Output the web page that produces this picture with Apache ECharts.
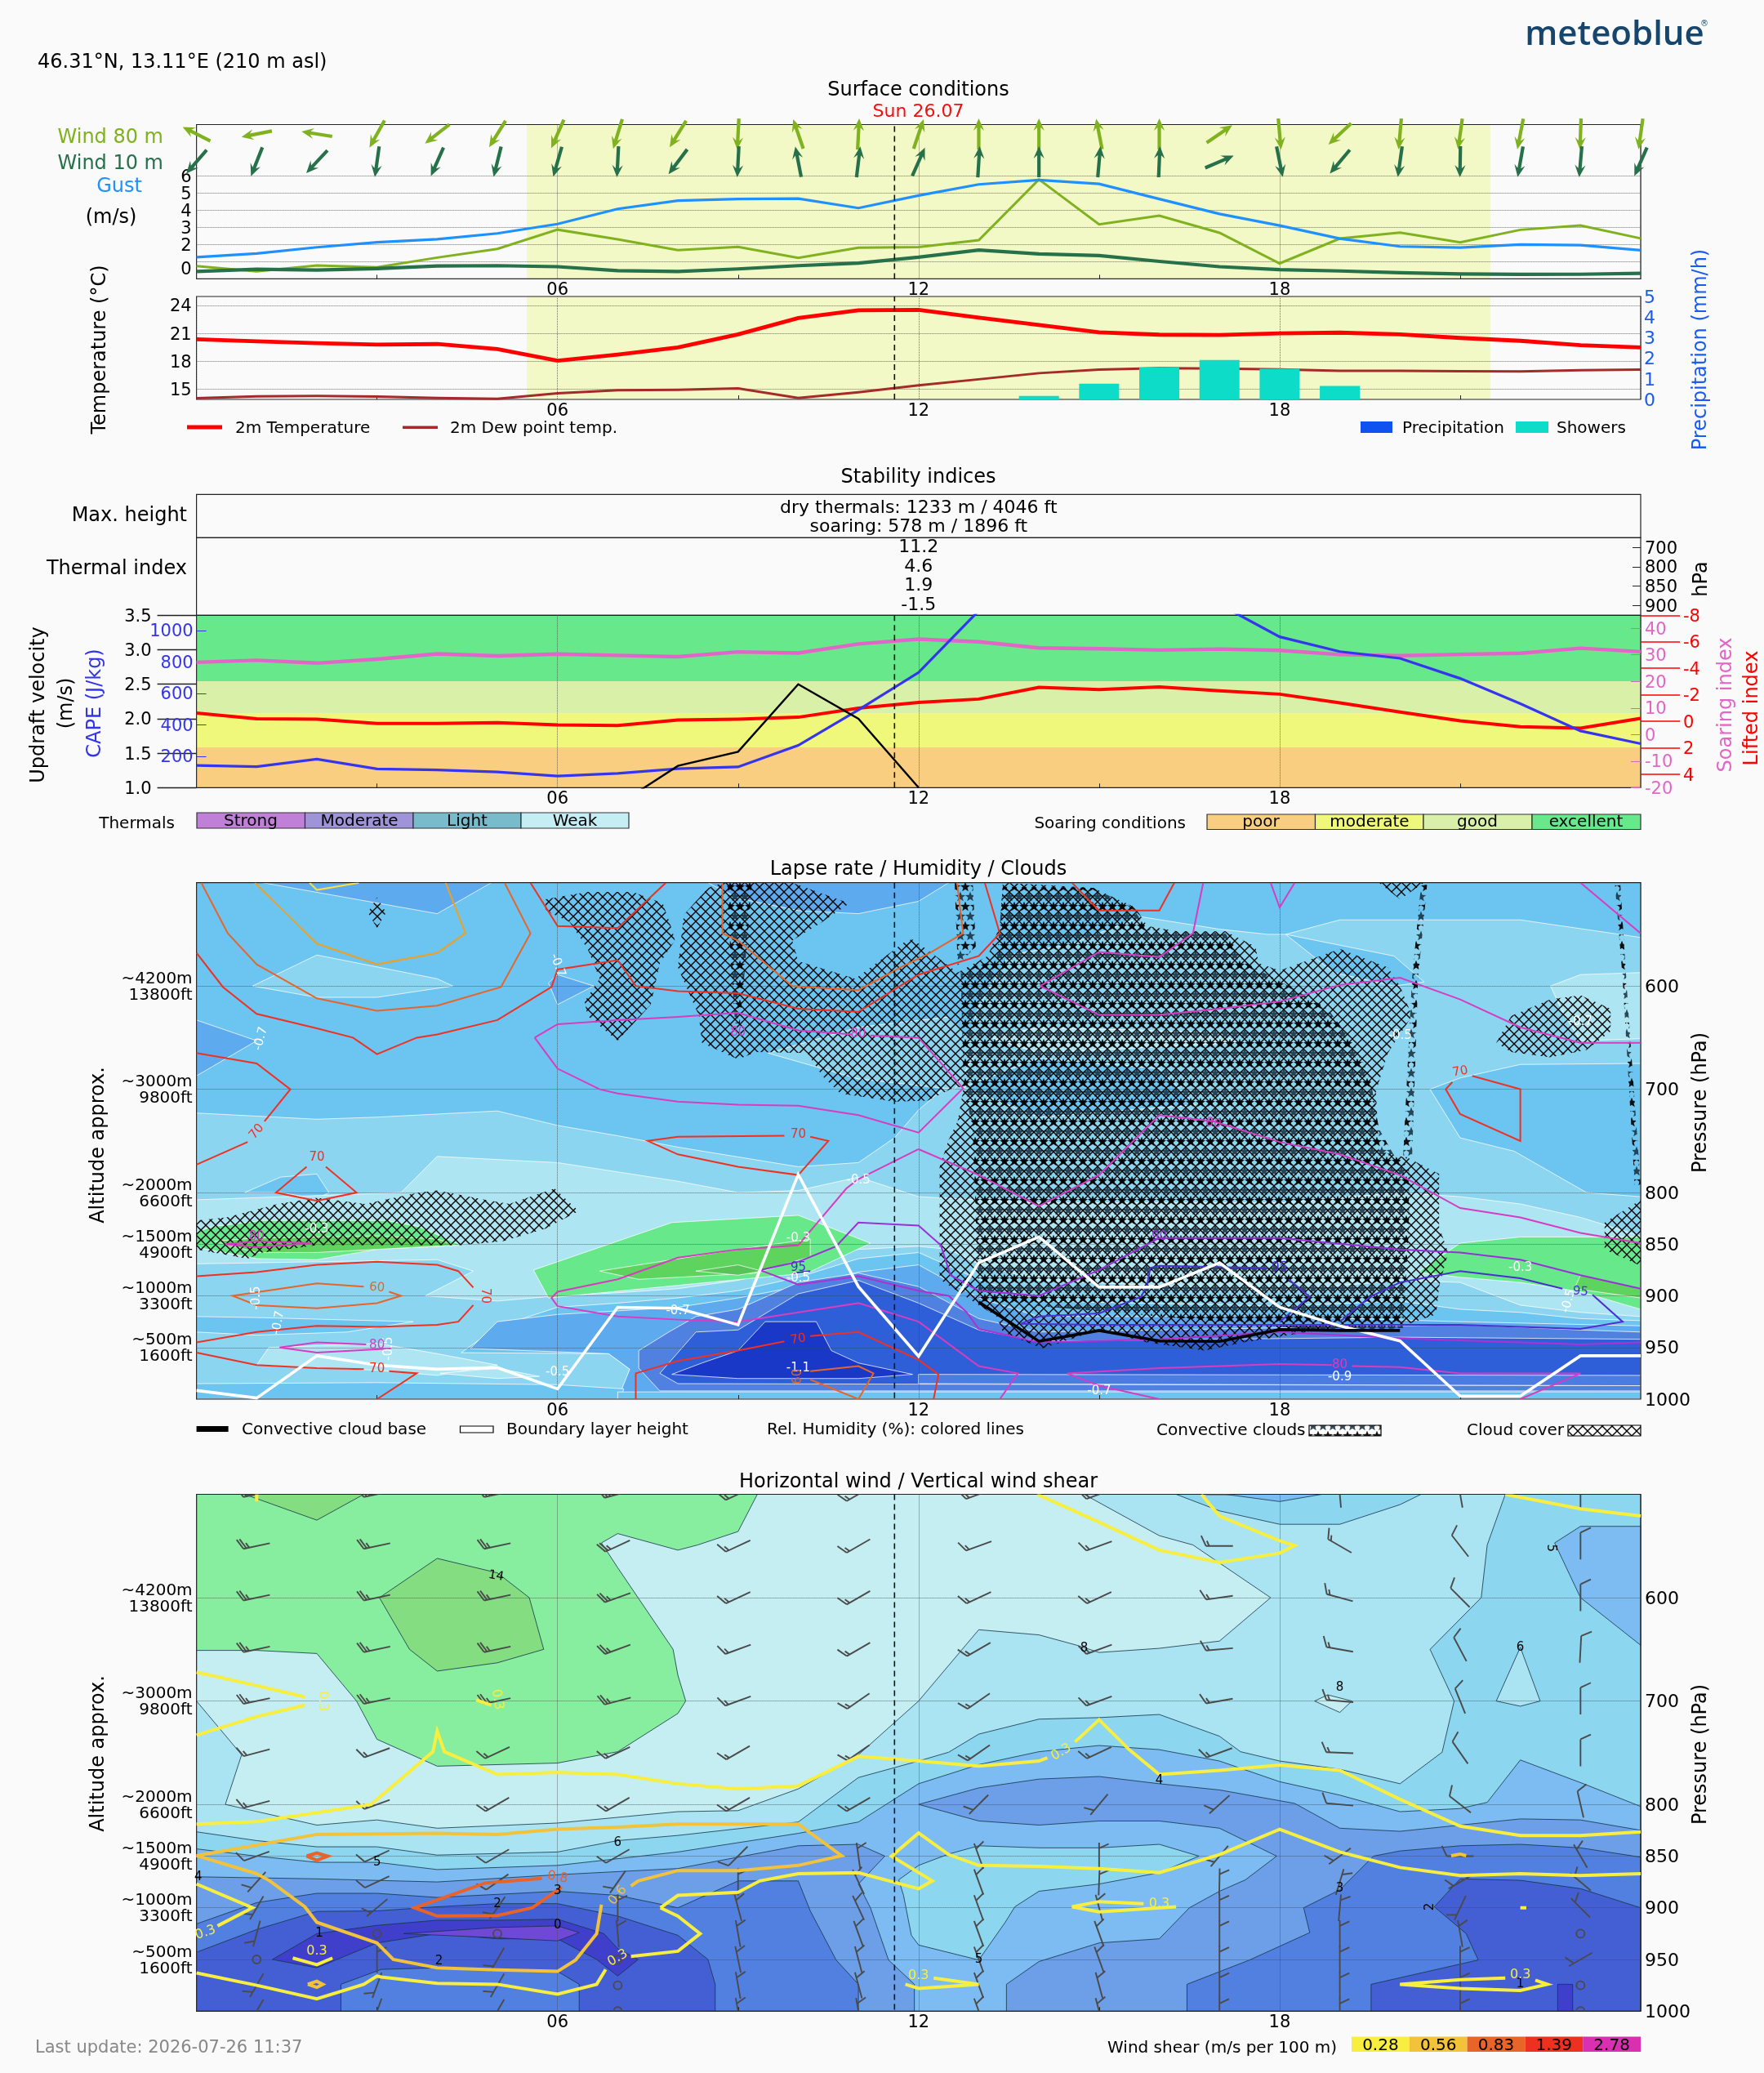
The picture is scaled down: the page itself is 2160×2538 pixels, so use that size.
<!DOCTYPE html>
<html><head><meta charset="utf-8">
<style>html,body{margin:0;padding:0;background:#fafafa}#c{width:2160px;height:2538px}</style>
<script src="https://cdn.jsdelivr.net/npm/echarts@6/dist/echarts.min.js"></script>
</head><body><div id="c"></div>
<script>
/* ---------- time ---------- */
const HOURS=[0,1,2,3,4,5,6,7,8,9,10,11,12,13,14,15,16,17,18,19,20,21,22,23,24];
const NOW_HOUR=11.6, DAY_START=5.49, DAY_END=21.5;
/* ---------- surface ---------- */
const GUST=[1.26,1.48,1.84,2.13,2.31,2.65,3.2,4.08,4.56,4.66,4.68,4.13,4.86,5.51,5.77,5.54,4.66,3.79,3.11,2.35,1.89,1.82,2.0,1.97,1.67];
const WIND80=[.75,.44,.78,.68,1.24,1.75,2.87,2.31,1.68,1.87,1.22,1.82,1.85,2.26,5.8,3.18,3.69,2.69,.9,2.35,2.7,2.13,2.86,3.11,2.36];
const WIND10=[.43,.56,.51,.6,.75,.77,.71,.48,.43,.58,.77,.92,1.26,1.68,1.45,1.36,1.02,.71,.54,.46,.36,.29,.26,.27,.32];
const WIND80_DIR=[297,259,279,209,232,212,204,197,212,183,341,3,18.6,0,0,349,0,55.6,175,227,185,188,191,182,188];
const WIND10_DIR=[221,201.6,223,188,204,194,196,183,217,183,349,7,24,3.5,0,5,2.5,67,168.5,220,188,181,190,185,204];
const TEMP2M=[20.35,20.13,19.94,19.78,19.84,19.3,18.05,18.7,19.47,20.88,22.64,23.49,23.52,22.7,21.89,21.1,20.85,20.82,21.0,21.07,20.88,20.5,20.19,19.72,19.47];
const DEW2M=[14.0,14.2,14.25,14.18,14.03,13.93,14.53,14.87,14.9,15.06,14.03,14.65,15.38,16.04,16.7,17.08,17.23,17.2,17.1,16.95,16.95,16.92,16.89,17.01,17.08];
const SHOWER_HOURS=[14,15,16,17,18,19];
const SHOWERS=[.17,.76,1.56,1.91,1.49,.65];
/* ---------- stability ---------- */
const SOARING=[27.2,27.95,26.9,28.4,30.4,29.6,30.3,29.8,29.3,31.1,30.7,34.1,35.9,34.9,32.6,32.3,31.8,32.2,31.7,30.1,29.7,30.2,30.6,32.5,31.2];
const LIFTED=[-.62,-.2,-.16,.16,.16,.1,.27,.31,-.1,-.16,-.31,-.99,-1.42,-1.68,-2.57,-2.4,-2.59,-2.3,-2.05,-1.4,-.7,-.04,.41,.51,-.23];
const CAPE=[141,134,181,119,113,100,74,91,120,132,269,495,733,1126,1350,1450,1350,1166,960,866,823,695,534,361,280];
const UPDRAFT_HOURS=[7,8,9,10,11,12];
const UPDRAFT=[.75,1.316,1.52,2.5,2,1];
const SOARING_EDGES=[1,1.585,2.078,2.544,3.5];
const THERMAL_LEVELS=['900','850','800','700'];
const THERMAL_INDEX=['-1.5','1.9','4.6','11.2'];
/* ---------- lapse rate fills, [hour,hPa] ---------- */
const LAPSE_BASE=[[0,500],[24,500],[24,1000],[0,1000]];
const LAPSE_D1=[[1.1,500],[4,530],[4.9,500]];
const LAPSE_D2=[[8.5,500],[9,515],[10,527],[11,530],[12,518],[12.5,500]];
const LAPSE_D3=[[0,633],[1,653],[0,687]];
const LAPSE_D4=[[6,589],[6.6,600],[6,618],[5.85,597]];
const LAPSE_L1=[[.93,600],[2,570],[4,593],[4.26,600],[3,611],[2,611]];
const LAPSE_LIGHT=[[0,723],[2,729],[3,727],[5,721],[6,735],[7,745],[8,756],[10,775],[11,771],[11.6,747],[12,720],[12.6,690],[13,620],[13.5,570],[14.5,560],[15.7,533],[17,545],[17.8,550],[18.1,550],[19,536],[22,536],[24,553],[24,1000],[0,1000]];
const LAPSE_L2=[[9.5,665],[11,640],[12.5,630],[13,660],[12.6,700],[11,690]];
const LAPSE_PK_A=[[12.75,698],[14,670],[16,680],[16.6,715],[14,727]];
const LAPSE_PK_B=[[20.5,700],[21,689],[22,676],[24,675],[24,804],[23.1,800],[21.9,760],[21,747]];
const LAPSE_PK_C=[[18.1,550],[19.9,571],[20.4,596],[19.9,600],[18.9,587]];
const LAPSE_PK_D=[[.8,800],[1.4,785],[2,782],[2.2,800],[2,806],[1.4,800]];
const LAPSE_P1=[[22.5,600],[23,589],[24,587],[24,651],[23,653],[22.7,625]];
const LAPSE_P2=[[13.2,650],[14,640],[17,645],[17.3,655],[14,665]];
const LAPSE_PALE=[[0,807],[3.4,800],[4,765],[6,771],[8,789],[9,800],[10,798],[11,785],[12,804],[14,810],[18,810],[20,800],[21,804],[22,811],[23,824],[24,842],[24,1000],[0,1000]];
const LAPSE_LOW6=[[0,869],[4,865],[4.6,876],[3.8,900],[5,905],[6,900],[7,897],[8,893],[9,885],[10,870],[11,855],[12,852],[12.5,855],[13,869],[14,885],[18,895],[20,885],[21,887],[22,909],[23,916],[24,920],[24,1000],[0,1000]];
const LAPSE_LOW7=[[4.4,955],[5,930],[6,911],[7,907],[8,902],[9,895],[10,882],[11,864],[12,858],[13,884],[14,905],[18,910],[20,905],[21,913],[22,916],[23,922],[24,924],[24,1000],[7.05,1000],[7.2,971],[6.85,956]];
const LAPSE_LOW8=[[4.55,951],[5,925],[6,918],[8,911],[9,902],[10,891],[11,877],[12,870],[13,902],[14,920],[18,920],[21,925],[24,929],[24,1000],[7,1000],[7.2,971],[6.85,956]];
const LAPSE_LOW9=[[7.35,953],[7.85,935],[8.3,920],[9,913],[10,887],[11,878],[12,891],[13,922],[14,935],[21,928],[23,933],[24,935],[24,992],[7.7,992],[7.35,970]];
const LAPSE_LOW10=[[7.7,975],[8.3,935],[9,933],[10,898],[11,885],[12,907],[13,933],[14,944],[20,940],[24,942],[24,987],[8,985]];
const LAPSE_STRIP=[[12,976],[24,977],[24,987],[12,985]];
const LAPSE_LOW11=[[7.9,976],[8.4,965],[9,953],[9.45,925],[10.3,925],[10.55,953],[11,965],[11.9,976],[11,980],[9,980]];
const LAPSE_LENS=[[0,920],[1,921],[3.6,925],[2.5,935],[1,938],[0,935]];
const LAPSE_BLOB=[[1,967],[1.2,950],[3,946],[4,956],[5,967],[4,977],[3,972]];
const LAPSE_BLOB2=[[4.05,975],[5,970],[5.7,978],[5,980]];
const LAPSE_BOT_L=[[0,985],[3,984],[6,986],[7.1,990],[7.05,1000],[0,1000]];
const LAPSE_BOT_R=[[7,993],[24,993],[24,1000],[7,1000]];
const LAPSE_G1=[[5.6,875],[7.9,829],[10,822],[11.2,849],[10.15,878],[8.5,887],[5.85,902]];
const LAPSE_G2=[[6.7,876],[9,855],[10.2,845],[10.2,862],[9.3,878],[7.35,884]];
const LAPSE_G3=[[8.3,876],[9,870],[9.4,876],[9,880]];
const LAPSE_G4=[[.27,833],[1.1,827],[3.15,827],[3.7,833],[4.4,851],[3,855],[2,865],[1,864],[0,853],[0,838]];
const LAPSE_G5=[[.3,847],[1,844],[3,842],[4,845],[4.3,851],[2,858],[1,858]];
const LAPSE_G6=[[20.3,877],[21,849],[22,843],[24,843],[24,913],[23,896],[22,887],[21,882]];
const LAPSE_G7=[[22.9,893],[23,880],[24,893],[24,902]];
/* cloud cover and convective clouds */
const CLOUD_AREAS=[
[[3,514],[3.15,529],[3,544],[2.85,529]],
[[5.8,516],[6.5,509],[7.25,509],[7.75,520],[7.9,545],[7.95,556],[7.7,578],[7.55,618],[7,653],[6.5,629],[6.45,615],[6.7,593],[6.5,564],[6.2,538],[5.8,527]],
[[8.05,556],[8.1,531],[8.5,505],[8.75,500],[9.9,500],[10.85,520],[10.4,538],[9.9,556],[10,576],[10.95,593],[11.8,556],[11.9,555],[12.15,565],[12.65,587],[13.15,571],[13.35,542],[13.4,500],[14.9,505],[15.6,524],[15.8,542],[16.3,547],[17.1,547],[17.6,562],[17.65,578],[18,585],[19,564],[19.8,582],[20,600],[20.2,629],[19.8,665],[19.6,702],[19.65,760],[20.15,767],[20.65,782],[20.65,833],[20.8,858],[20.65,891],[20.6,918],[20.05,929],[18.9,931],[17.4,945],[16.75,953],[15.8,945],[15,933],[14.05,951],[13.4,935],[13.3,920],[13,909],[12.35,884],[12.35,775],[12.5,749],[12.65,731],[12.75,698],[12.6,698],[12.15,711],[11.6,712],[10.7,704],[10.4,687],[10.15,665],[9.3,664],[9,671],[8.4,655],[8.35,629],[8,582]],
[[19.65,500],[20,516],[20.4,500]],
[[21.6,655],[21.85,629],[22.5,613],[23,609],[23.5,622],[23.5,644],[23.1,662],[22.5,669],[21.85,664]],
[[23.4,829],[24,807],[24,871],[23.4,855]],
[[0,827],[.5,824],[1.35,811],[2,805],[2.8,811],[3.7,800],[4,798],[4.8,807],[5.2,811],[5.95,796],[6.35,818],[5.8,835],[5.1,847],[4.4,851],[2.9,851],[2,851],[1.1,858],[.85,864],[0,855]]
];
const CONVECTIVE_AREAS=[
[[13.4,504],[14.9,505],[15.55,524],[15.8,545],[17.1,549],[17.45,578],[18.15,600],[18.8,622],[19.25,658],[19.5,687],[19.65,738],[19.9,764],[20.15,775],[20.15,833],[20.05,931],[19.05,935],[13,905],[12.9,738],[12.75,698],[12.7,585],[13.3,575]],
[[12.6,500],[12.9,500],[12.95,562],[12.65,580]],
[[8.82,500],[9.23,500],[9.1,593],[9.03,636],[8.95,636],[8.87,567]],
[[20.35,502],[20.45,502],[20.3,593],[20.2,767],[20.05,767],[20.2,593]],
[[23.57,500],[23.66,500],[23.8,629],[24,793],[23.9,793],[23.7,593]]
];
/* relative humidity contours */
const RH40=[[[1.88,500],[2,507],[2.7,500]]];
const RH50=[[[.97,500],[2,559],[3,579],[4,568],[4.47,549],[4.14,500]]];
const RH60=[
[[.08,500],[.52,549],[1,579],[2,612],[3,624],[4,619],[5.06,601],[5.55,549],[5.12,500]],
[[8.74,500],[8.74,549],[9,556],[9.9,600],[11,604],[11.7,582],[12.16,569],[12.74,549],[12.64,500]],
[[2.78,891],[2,888],[.6,900],[1,909],[2,912],[3,907],[3.4,900],[3.2,896]],
[[10.2,973],[11,968],[11.25,975],[11,1000]],[[10.2,981],[11,1000]]];
const RH70=[
[[0,568],[.44,601],[1,627],[2,641],[2.6,650],[3,666],[3.66,650],[4,647],[5,633],[5.9,601],[6,584],[7,575],[7.3,600],[8,605],[9,607],[10,622],[11,625],[12,589],[13,571],[13.35,549],[13.1,500]],
[[5.55,500],[6,542],[7,544],[7.8,500]],
[[14.55,500],[15,527],[16,527],[16.25,500]],
[[0,665],[1,675],[1.56,700],[1.13,731]],[[.85,751],[0,773]],
[[1.83,775],[1.32,800],[2,808],[2.66,800],[2.15,775]],
[[9.77,745],[8,746],[7.5,750],[8,763],[9,775],[10,783],[10.5,750],[10.2,746]],
[[4.6,892],[4.35,876],[4,870],[3,867],[2,870],[1,877],[0,881]],
[[4.6,909],[4.35,925],[4,928],[3,930],[2,929],[1,935],[0,945]],
[[0,955],[1,967],[2,970],[2.78,971]],[[3.2,973],[3.66,975],[3,1000]],
[[7.3,1000],[7.3,975],[8,963],[9,953],[9.77,944]],[[10.2,939],[11,935],[12,962],[12.33,976],[12.25,1000]],
[[20.87,693],[20.76,700],[21,724],[22,750],[22,700],[21.2,687]]];
const RH80=[
[[5.62,650],[6,637],[7,633],[8,630],[9,626],[10,643],[10.9,647]],
[[11.2,648],[12,650],[12.74,699],[12,742],[11,725],[10,716],[9,715],[8,712],[7,704],[6.7,700],[6,680],[5.62,650]],
[[14.02,600],[15,567],[16,572],[16.56,549],[16.73,500]],
[[14.02,600],[15,628],[16,628],[17,622],[18,615],[19,599],[20,592],[21,613],[22,640],[23,655],[24,655]],
[[17.85,500],[18,524],[18.25,500]],[[23,500],[24,549]],
[[12,758],[11,787],[10.8,796],[10,851],[9,855],[8,863],[7,884],[6,896],[5.9,902],[6,910],[7,920],[8,923],[9,925],[10,916],[11,907],[12,925],[13,968],[13.65,975],[13.35,1000]],
[[12,758],[13,783],[14,813],[15,783],[16,725],[16.9,731],[18,751],[19,763],[20,783],[21,815],[22,824],[23,839],[24,849]],
[[18.87,967],[18,966],[16,970],[14.47,975],[15,987],[16,1000]],
[[19.2,968],[20,969],[21,975],[23,975],[22,1000]],
[[2.82,947],[2,945],[1.38,950],[2,955],[3.23,951]],
[[.48,850],[1,847],[1.92,849],[1,853],[.48,850]]];
const RH85=[[[9.36,875],[10,889],[11,881],[12,895],[12.5,900],[12.8,916],[13,932],[14,945],[16,942],[18,935],[20,941],[23,947],[24,945]]];
const RH90=[[[9.36,875],[10,867],[10.63,852],[11,829],[12,832],[12.37,851],[12.53,880],[13,895],[14,900],[15,875],[16,844],[18,844],[20,855],[21,858],[22,865],[23,880],[24,893]]];
const RH95=[
[[17.8,873],[16,871],[15.85,873],[15.8,889],[15.7,901],[15,917],[14,920],[13.7,927],[15,928],[19,928],[21,928],[23,932],[23.7,925],[23.2,899]],
[[22.7,893],[22,883],[21,876],[20,887],[19.5,901],[19,925]],
[[18.15,884],[18.5,901],[18,925]],[[9.9,878],[10.2,876]]];
const BOUNDARY_LAYER=[991.6,998.9,958,967,971,969.5,990,911,912,928,782.5,891,958.5,868,843,891.6,891.6,868,911,929,943.6,997,997,958,958];
const CLOUD_BASE_HOURS=[13,14,15,16,17,18,19,20];
const CLOUD_BASE=[906,944,933.5,943.6,944,932.7,933.5,933.5];
const LAPSE_LABELS=[[6,580,'-0.7',-70],[1.07,651,'-0.7',75],[11,788,'-0.5',0],[10,844,'-0.3',0],[10,883,'-0.5',0],[10,970,'-1.1',0],[8,915,'-0.7',0],[6,974,'-0.5',0],[2,836,'-0.3',0],[1,902,'-0.5',90],[1.36,926,'-0.7',80],[3.2,951,'-0.5',90],[22,873,'-0.3',0],[15,992,'-0.7',0],[19,979,'-0.9',0],[20,648,'-0.5',0],[22.8,905,'-0.5',75],[23,635,'-0.7',0]];
const RH_LABELS_70=[[1,741,'70',50],[2,766,'70',0],[10,744,'70',0],[3,971,'70',0],[4.8,900,'70',-90],[10,942,'70',10],[21,683,'70',10]];
const RH_LABELS_60=[[3,892,'60',-5],[10,978,'60',90]];
const RH_LABELS_80=[[1,843,'80',0],[3,948,'80',0],[11,647,'80',0],[9,645,'80',0],[19,967,'80',0],[16.9,733,'80',-10]];
const RH_LABELS_90=[[16,843,'90',0]];
const RH_LABELS_95=[[10,873,'95',0],[23,896,'95',-5],[18,873,'95',0]];
/* ---------- horizontal wind fills, [hour,hPa] ---------- */
const WS_BASE=[[0,500],[24,500],[24,1000],[0,1000]];
const WS_PALE=[[0,500],[0,700],[.75,752],[.48,800],[2,820],[3,815],[4,823],[6,818],[8,807],[9,806],[10,785],[11,752],[12,700],[13,631],[14,636],[14.63,646],[15,653],[16,649],[17,642],[17.85,600],[16.56,549],[16,540],[14.75,500]];
const WS_G1=[[0,500],[9.32,500],[9,536],[8.33,549],[8,554],[7,538],[6.73,547],[7,571],[7.92,650],[8,675],[8.13,700],[8,712],[7,749],[6,760],[4,763],[3,737],[2.66,700],[2,654],[1,651],[0,651]];
const WS_G2=[[3.04,600],[4,562],[5,576],[5.53,600],[5.77,650],[5,663],[4,671],[3.54,650]];
const WS_G3=[[.8,500],[2,525],[2.78,500]];
const WS_6=[[0,826.5],[1,835],[2,841],[3,841],[4,849],[6,846],[7,835],[8,830],[10,817],[11,774],[12,758],[12.5,749.5],[13,732],[14,717.5],[15,716],[16,713],[17,734],[17.35,749],[18,758],[19,766],[20,780],[20.7,749.5],[20.9,700],[20.5,650],[21.35,600],[21.45,549],[21.75,500],[24,500],[24,1000],[0,1000]];
const WS_6_TOP=[[16.28,500],[17,516],[18,529],[19,529],[20,510],[20.35,500]];
const WS_5_TOP=[[17.1,500],[18,507],[18.7,500]];
const WS_5_TR=[[22.57,547],[23,531],[24,531],[24,646],[23,600]];
const WS_7_TRI=[[22,648],[21.6,700],[22,705],[22.33,700]];
const WS_8_SMALL=[[18.58,700],[18.8,694],[19.2,700],[19,711]];
const WS_5=[[0,843],[1,850],[2,856],[3,856],[4,863],[6,859],[8,846],[10,828],[11,817],[12,780],[13,761.5],[14,749],[15,743],[16,747],[17,758],[18,778],[19,791],[20,807],[21,804],[21.45,798],[22,757],[23.05,780],[24,802],[24,1000],[0,1000]];
const WS_6_BLOB=[[11.75,888],[11.88,926.6],[12,936],[13,950.5],[13.44,914],[13.6,899],[14,884],[15,877],[16,866],[16.66,850],[16,838.6],[15,842],[14,842],[13,840],[12.5,848],[12,859],[11.67,873]];
const WS_4_L=[[0,870],[2,872],[4,875],[6,868],[8,862],[9,851],[10,840],[11,838.6],[11.44,850],[11,877],[11.2,900],[11.5,950.5],[11.93,974],[11.93,1000],[0,1000]];
const WS_4_R=[[12,800],[13,784],[14,775.5],[15,773],[16,780],[17,786],[18.25,799],[19,823],[20,826],[21,820],[22,814],[23,815],[24,825],[24,1000],[13.46,1000],[13.46,974],[14,952],[15,934],[16,930],[16.5,900],[17,884],[17.43,873],[17.95,850],[17,823],[16,816],[15,816],[14,820],[13,816]];
const WS_3_L=[[0,915.6],[1,895],[2,886],[3,886],[4,890],[6,884],[7,888],[8,900],[9,874],[10,874],[10.2,903],[10.63,950.5],[11,974],[11,1000],[0,1000]];
const WS_3_R=[[16.46,1000],[16.46,974],[17.5,950.5],[18.5,924],[18.4,900],[19,882.6],[19.56,850],[20,845],[21,840],[22,838.6],[23,842],[24,851],[24,1000]];
const WS_2_L=[[0,943],[1,921],[2,903.5],[3,903],[4,899],[5,896],[6,896],[7,908],[8,926.6],[8.5,950],[8.62,974],[8.62,1000],[0,1000]];
const WS_3_POCKET=[[2.4,1000],[2.4,974],[3.07,959.6],[4,958],[6,961.5],[6.36,974],[6.36,1000]];
const WS_2_R=[[19.52,1000],[19.52,974],[21.3,950.5],[21.1,925],[20.57,899],[21,872],[22,873.4],[23,881.5],[24,900],[24,1000]];
const WS_1_L=[[1.26,950],[2,925],[3,917],[4,912],[5,912],[6,911],[6.77,925],[7,939.5],[7.34,950],[7,966],[6.65,950],[6,930],[5,930],[4,925],[3,934],[2,958]];
const WS_1_R=[[22.62,1000],[22.62,974],[22.87,974],[22.87,1000]];
const WS_0=[[3.44,925],[5,919],[6,917.5],[6.36,924],[6,932],[5,929]];
/* wind shear contours */
const SHEAR03=[
[[0,672],[1,685],[1.8,696]],[[1.8,704],[1,715],[0,733]],[[4.65,699],[4.9,704]],
[[0,819],[1,816.6],[2,808],[2.9,800],[3.93,749],[4,729],[4.12,749],[5,771],[6,769],[7,771],[8,780],[9,785],[10,782],[11,753.5],[12,758],[13,763],[14,758],[14.14,755]],
[[14.6,739.5],[15,718],[15.5,747],[16,771],[17,767],[18,762],[19,767],[20,795],[21,821],[22,830],[23,830],[24,826.5]],
[[0,877],[.93,900],[.35,917.5]],
[[13.97,500],[15,527],[16,554],[17,566],[18,557],[18.25,549.5],[18,545],[17,521],[16.7,500]],
[[21.75,500],[23,514],[24,521]],
[[7.71,900],[8,888],[9,885],[9.36,874],[10,867],[11,866],[12,881.5],[12.23,874],[11.55,850],[12,827.6],[12.5,848.5],[13,859],[14,860],[15,862],[16,866],[17,848.5],[18,824],[19,846],[20,861],[21,868.7],[22,867],[23,868.7],[24,867]],
[[7.71,900],[8,908],[8.37,925],[8,942],[7.22,947]],
[[6.8,959.6],[6.65,974],[6,983.5],[5,974],[4,973],[3.07,967],[3,966],[2.78,974],[2,988],[1,975],[0,963]],
[[1.6,948.6],[2,955],[2.26,948.6]],
[[11.78,974],[12,978],[13,974],[12.25,968]],
[[15.74,896],[15,894],[14.55,899],[15,904],[16.28,899]],
[[21.75,968],[21,969.5],[20,974],[21,978],[22,980],[22.45,974],[22.25,970]],
[[22,900],[22.1,900]],[[1,500],[1,507]]];
const SHEAR06=[
[[0,849.6],[2,829],[4,828],[5,829],[6,824],[7,822],[8,819],[10,819],[10.72,849.6],[10,859],[9,864],[8,864],[7.34,874],[7.22,879]],
[[6.73,897],[6.65,925],[6.3,950.5],[6,961.5],[5,960],[4,958],[3.27,950],[3,934],[2,914],[1.8,899],[1.22,874],[1,867],[0,849.6]],
[[1.85,974],[2,971],[2.1,974],[2,977],[1.85,974]],[[20.85,849.6],[21,848],[21.1,849.6]]];
const SHEAR08=[
[[5.74,871.6],[4.8,876],[3.62,900],[4,908],[5,907.5],[5.58,900],[6.07,880]],
[[1.83,850],[2,847],[2.18,850],[2,854],[1.83,850]]];
const WS_LABELS=[[4.98,579,'14',-10],[7,837,'6',0],[3,856,'5',0],[.03,870,'4',0],[6,884,'3',0],[5,896,'2',0],[4.03,952,'2',0],[2.04,925,'1',0],[6,917,'0',0],[22.5,552,'5',-90],[14.75,649,'8',0],[19,687,'8',0],[22,648,'6',0],[16,777,'4',0],[19,881,'3',0],[20.5,899,'2',90],[13,950,'5',0],[22,974,'1',0]];
const SHEAR_LABELS_03=[[2.1,700,'0.3',-90],[5,698.5,'0.3',-80],[.15,924,'0.3',20],[7,948.6,'0.3',30],[2,942,'0.3',0],[12,966,'0.3',0],[14.37,749.5,'0.3',30],[16,896,'0.3',0],[22,965,'0.3',0]];
const SHEAR_LABELS_06=[[7,888,'0.6',50]];
const SHEAR_LABELS_08=[[6,870.5,'0.8',-10]];
/* wind barbs */
const BARB_HOURS=[1,3,5,7,9,11,13,15,17,19,21,23];
const BARB_LEVELS=[500,550,600,650,700,750,800,850,875,900,925,950,975,1000];
const BARB_DIR=[
[258,258,258,255,245,240,250,250,270,355,350,0],
[258,258,258,245,245,240,250,250,270,300,322,0],
[258,258,258,250,245,240,245,245,262,285,315,0],
[258,258,258,250,250,240,240,250,265,280,332,3],
[258,258,258,255,250,235,235,250,260,275,338,0],
[255,250,245,245,240,235,235,245,250,272,325,0],
[255,250,240,240,240,240,225,220,228,275,308,347],
[250,245,240,240,225,352,340,0,220,234,270,330],
[222,245,235,215,0,335,340,2,1,17,240,310],
[210,230,215,0,345,335,340,345,0,5,205,315],
[195,0,0,355,350,340,340,340,0,0,350,0],
[0,0,210,0,348,345,340,340,0,0,0,240],
[210,200,210,0,350,345,340,345,0,0,0,0],
[210,200,210,0,350,350,340,345,0,0,0,0]];
const BARB_SPEED=[
[14,14,14,14,10,9,8,8,7,6,6,5],
[14,14,14,14,9,8,8,8,7,7,6,5],
[14,14,15,14,9,8,8,8,7,7,6,5],
[13,14,15,13,9,8,8,8,7,7,6,5],
[13,14,14,13,9,8,8,8,7.5,7.5,6,5],
[9,9,9,10,9,9,8,8,8,7.5,6,5],
[8,8,8,8,8,8,4,4,4,6,6,5],
[6,6,6,6,6,4,4,4,4,4,5,4],
[4,6,6,4,4,4,4,4,4,3,3,3],
[3,3,3,4,4,4,4,4,4,3,3,3],
[3,0,0,4,4,4,4,4,4,3,3,0],
[0,3,3,0,4,4,4,4,4,3,3,3],
[3,3,3,0,4,4,4,4,4,3,3,0],
[3,3,3,0,4,4,4,4,4,3,3,0]];
const ALT_LABELS={600:['~4200m','13800ft'],700:['~3000m','9800ft'],800:['~2000m','6600ft'],850:['~1500m','4900ft'],900:['~1000m','3300ft'],950:['~500m','1600ft']};

/* ---------- presentation ---------- */
const FONT='"DejaVu Sans"', L=240.6, R=2160-2009, GRIDC='rgba(70,70,70,.75)';
const ROW80=8.45, ROW10=6.83;
const NOLINE={show:false,onZero:false};
const zip=(xs,ys)=>xs.map((x,i)=>[x,ys[i]]);

function tile(w,h,draw){const c=document.createElement('canvas');c.width=w;c.height=h;draw(c.getContext('2d'));return {image:c,repeat:'repeat'};}
const hatch=tile(12,12,g=>{g.strokeStyle='#000';g.lineWidth=1.35;
  [[-2,-2,14,14],[-2,14,14,-2],[-8,4,4,-8],[8,16,16,8],[-8,8,8,24],[4,-8,20,8]].forEach(l=>{g.beginPath();g.moveTo(l[0],l[1]);g.lineTo(l[2],l[3]);g.stroke();});});
function star(g,cx,cy,r){g.beginPath();for(let i=0;i<10;i++){const a=-Math.PI/2+i*Math.PI/5,q=i%2?r*.42:r;g.lineTo(cx+q*Math.cos(a),cy+q*Math.sin(a));}g.closePath();g.fill();}
const stars=tile(12,24,g=>{g.fillStyle='rgba(0,0,0,.92)';star(g,6,6,6.4);g.fillStyle='rgba(20,45,60,.85)';star(g,0,18,6.4);star(g,12,18,6.4);});

const grids=[[152.5,188.9],[363,126],[605.3,53],[658.3,95],[753.3,211],[1080.7,632.3],[1829.5,632.8]]
  .map(a=>({left:L,right:R,top:a[0],height:a[1],show:true,borderColor:'#222',borderWidth:1.2,backgroundColor:'transparent',containLabel:false}));
const xAxis=[];
grids.forEach((g,i)=>{
  const labelled=i!==2&&i!==3;
  xAxis.push({type:'value',gridIndex:i,min:0,max:24,interval:6,position:'bottom',axisLine:NOLINE,axisTick:{show:false},
    splitLine:{show:labelled,lineStyle:{color:GRIDC,type:'dotted',width:1}},
    axisLabel:{show:labelled,margin:4,fontSize:21,fontFamily:FONT,color:'#000',showMinLabel:false,showMaxLabel:false,
      formatter:v=>v===6?'06':v===12?'12':v===18?'18':''}});
  xAxis.push({type:'value',gridIndex:i,min:0,max:24,interval:3,position:'bottom',axisLine:NOLINE,splitLine:{show:false},axisLabel:{show:false},
    axisTick:{show:labelled,inside:true,length:5,lineStyle:{color:'#222'},customValues:[3,9,15,21]}});
});
const gridLine={show:true,lineStyle:{color:GRIDC,type:'dotted',width:1}};
/* tick labels: the rich padding nudges them down onto the reference's baseline */
function lab(color,size,margin,values,fmt){
  const o={margin,showMinLabel:true,showMaxLabel:true,hideOverlap:false,
    formatter:v=>'{v|'+(fmt?fmt(v):v)+'}',
    rich:{v:{fontSize:size,fontFamily:FONT,color,padding:[4,0,0,0]}}};
  if(values)o.customValues=values;
  return o;
}
const yAxis=[
 {type:'value',gridIndex:0,min:0,max:9,position:'left',axisLine:NOLINE,axisTick:{show:false,customValues:[0,1,2,3,4,5,6]},splitLine:gridLine,
  axisLabel:{margin:6,customValues:[0,1,2,3,4,5,6],showMinLabel:true,showMaxLabel:true,hideOverlap:false,
    formatter:v=>v===0?'{z|0}':'{v|'+v+'}',
    rich:{v:{fontSize:21,fontFamily:FONT,color:'#000',padding:[4,0,0,0]},z:{fontSize:21,fontFamily:FONT,color:'#000',padding:[0,0,22,0]}}}},
 {type:'value',gridIndex:1,min:13.87,max:24.97,position:'left',axisLine:NOLINE,axisTick:{show:false,customValues:[15,18,21,24]},splitLine:gridLine,
  axisLabel:lab('#000',21,6,[15,18,21,24])},
 {type:'value',gridIndex:1,min:0,max:5,interval:1,position:'right',axisLine:NOLINE,axisTick:{show:false},splitLine:{show:false},axisLabel:lab('#1a5cf0',22,4)},
 {type:'value',gridIndex:2,min:0,max:1,show:false},
 {type:'value',gridIndex:3,min:0,max:4,position:'right',axisLine:NOLINE,splitLine:{show:false},
  axisTick:{show:true,inside:true,length:10,lineStyle:{color:'#222'},customValues:[.5,1.5,2.5,3.5]},
  axisLabel:lab('#000',21,5,[.5,1.5,2.5,3.5],v=>THERMAL_LEVELS[Math.floor(v)])},
 {type:'value',gridIndex:4,min:1,max:3.5,interval:.5,position:'left',axisLine:NOLINE,axisTick:{show:true,length:48,lineStyle:{color:'#222',width:1.4}},splitLine:{show:false},
  axisLabel:lab('#000',21,55,null,v=>v.toFixed(1))},
 {type:'value',gridIndex:4,min:0,max:1097,position:'left',axisLine:NOLINE,axisTick:{show:true,inside:true,length:12,lineStyle:{color:'#3535e8'},customValues:[200,400,600,800,1000]},splitLine:{show:false},
  axisLabel:lab('#3535e8',21,4,[200,400,600,800,1000])},
 {type:'value',gridIndex:4,min:-8,max:5,inverse:true,position:'right',axisLine:NOLINE,axisTick:{show:true,length:48,lineStyle:{color:'#f00',width:1.6},customValues:[-8,-6,-4,-2,0,2,4]},splitLine:{show:false},
  axisLabel:lab('#f00',21,52,[-8,-6,-4,-2,0,2,4])},
 {type:'value',gridIndex:4,min:-20,max:44.9,position:'right',axisLine:NOLINE,axisTick:{show:true,inside:true,length:12,lineStyle:{color:'#d468c0'},customValues:[-20,-10,0,10,20,30,40]},splitLine:{show:false},
  axisLabel:lab('#e266c8',21,5,[-20,-10,0,10,20,30,40])}
];
const pressureAxes=g=>[
 {type:'value',gridIndex:g,min:500,max:1000,inverse:true,position:'left',axisLine:NOLINE,axisTick:{show:false,customValues:[600,700,800,850,900,950]},splitLine:gridLine,
  axisLabel:{margin:5,customValues:[600,700,800,850,900,950],showMinLabel:true,showMaxLabel:true,hideOverlap:false,
    formatter:v=>ALT_LABELS[v]?'{a|'+ALT_LABELS[v][0]+'}\n{b|'+ALT_LABELS[v][1]+'}':'',
    rich:{a:{fontSize:20,fontFamily:FONT,color:'#000',align:'right',lineHeight:23,padding:[6,0,0,0]},b:{fontSize:20,fontFamily:FONT,color:'#000',align:'right',lineHeight:23}}}},
 {type:'value',gridIndex:g,min:500,max:1000,inverse:true,position:'right',axisLine:NOLINE,axisTick:{show:false},splitLine:{show:false},
  axisLabel:lab('#000',22,5,[600,700,800,850,900,950,1000])}];
yAxis.push(...pressureAxes(5),...pressureAxes(6));
const Y={wind:0,temp:1,prec:2,box:3,thermal:4,up:5,cape:6,li:7,si:8,lapse:10,ws:12};
const xOf=g=>2*g;

const series=[];
function custom(g,y,z,n,fn,clip){series.push({type:'custom',xAxisIndex:xOf(g),yAxisIndex:y,z,silent:true,clip:clip!==false,animation:false,
  data:Array.from({length:n},(_,i)=>[i,0]),renderItem:(p,api)=>fn(p.dataIndex,api)});}
function fills(g,y,z,items,stroke,lw){custom(g,y,z,items.length,(i,api)=>({type:'polygon',shape:{points:items[i][1].map(q=>api.coord(q))},
  style:{fill:items[i][0],stroke:stroke||null,lineWidth:lw||0}}));}
function lines(g,y,z,sets,color,width){custom(g,y,z,sets.length,(i,api)=>({type:'polyline',shape:{points:sets[i].map(q=>api.coord(q))},
  style:{fill:null,stroke:color,lineWidth:width,lineJoin:'miter',miterLimit:4}}));}
function texts(g,y,z,items,color,size){custom(g,y,z,items.length,(i,api)=>{const c=api.coord([items[i][0],items[i][1]]);
  return {type:'text',x:c[0],y:c[1],rotation:(items[i][3]||0)*Math.PI/180,style:{text:items[i][2],fill:color,fontSize:size||15,fontFamily:FONT,align:'center',verticalAlign:'middle',textAlign:'center',textVerticalAlign:'middle'}};},false);}
function line(g,y,data,color,width,z,dash){series.push({type:'line',xAxisIndex:xOf(g),yAxisIndex:y,data,showSymbol:false,symbol:'none',silent:true,z:z||3,animation:false,clip:true,
  lineStyle:{color,width,type:dash||'solid',join:'miter'}});}
function band(g,y,z,h0,h1,v0,v1,color){custom(g,y,z,1,(i,api)=>{const a=api.coord([h0,v0]),b=api.coord([h1,v1]);
  return {type:'rect',shape:{x:a[0],y:b[1],width:b[0]-a[0],height:a[1]-b[1]},style:{fill:color}};});}
const nowLine=(g,y,v0,v1)=>line(g,y,[[NOW_HOUR,v0],[NOW_HOUR,v1]],'#111',1.6,9,[7,5]);

/* panel 1 */
band(0,Y.wind,-1,DAY_START,DAY_END,0,9,'#f2f8c6');
function arrows(dirs,row,color){custom(0,Y.wind,4,dirs.length,(i,api)=>{
  const c=api.coord([HOURS[i],row]),a=dirs[i]*Math.PI/180,u=[Math.sin(a),-Math.cos(a)],v=[-u[1],u[0]],len=38,
  P=(s,t)=>[c[0]+u[0]*s+v[0]*t,c[1]+u[1]*s+v[1]*t],e=len/2;
  return {type:'polygon',shape:{points:[P(-e,-2.1),P(e-11,-2.1),P(e-15,-6.6),P(e,0),P(e-15,6.6),P(e-11,2.1),P(-e,2.1)]},style:{fill:color}};},false);}
arrows(WIND80_DIR,ROW80,'#80b11f');
arrows(WIND10_DIR,ROW10,'#26704a');
line(0,Y.wind,zip(HOURS,WIND80),'#80b11f',3);
line(0,Y.wind,zip(HOURS,WIND10),'#26704a',4.2);
line(0,Y.wind,zip(HOURS,GUST),'#1e90ff',3.2);
nowLine(0,Y.wind,0,9);
/* panel 2 */
band(1,Y.temp,-1,DAY_START,DAY_END,13.87,24.97,'#f2f8c6');
line(1,Y.temp,zip(HOURS,TEMP2M),'#ff0000',4.8);
line(1,Y.temp,zip(HOURS,DEW2M),'#a52a2a',3);
series.push({type:'bar',xAxisIndex:xOf(1),yAxisIndex:Y.prec,data:zip(SHOWER_HOURS,SHOWERS),barWidth:49,silent:true,z:4,animation:false,itemStyle:{color:'#0cdcc8'}});
nowLine(1,Y.temp,13.87,24.97);
/* panel 3 */
texts(2,Y.box,3,[[12,.68,'dry thermals: 1233 m / 4046 ft',0],[12,.25,'soaring: 578 m / 1896 ft',0]],'#000',22);
texts(3,Y.thermal,3,THERMAL_INDEX.map((t,i)=>[12,i+.5,t,0]),'#000',22);
['#f9ce80','#f0f87b','#d9f0a8','#67e88a'].forEach((c,i)=>band(4,Y.up,-1,0,24,SOARING_EDGES[i],SOARING_EDGES[i+1],c));
line(4,Y.si,zip(HOURS,SOARING),'#e266c8',4.4);
line(4,Y.li,zip(HOURS,LIFTED),'#ff0000',4);
line(4,Y.cape,zip(HOURS,CAPE),'#3535f0',3.2,5);
line(4,Y.up,zip(UPDRAFT_HOURS,UPDRAFT),'#000',2.4,5);
nowLine(4,Y.up,1,3.5);
/* panel 4 */
const C={d:'#5eaaee',m:'#6cc4f0',l:'#8cd5f0',p:'#aee5f3',g:'#67e88a',gd:'#5ed45e',gx:'#58c458',b1:'#5080e0',b2:'#2f5fd8',b3:'#1a38c8',b4:'#4a7ce2'};
fills(5,Y.lapse,-2,[[C.m,LAPSE_BASE]]);
fills(5,Y.lapse,-2,[
 [C.d,LAPSE_D1],[C.d,LAPSE_D2],[C.d,LAPSE_D3],[C.d,LAPSE_D4],[C.l,LAPSE_L1],
 [C.l,LAPSE_LIGHT],[C.l,LAPSE_L2],[C.m,LAPSE_PK_A],[C.m,LAPSE_PK_B],[C.m,LAPSE_PK_C],[C.m,LAPSE_PK_D],
 [C.p,LAPSE_P1],[C.p,LAPSE_P2],[C.p,LAPSE_PALE],[C.l,LAPSE_LOW6],[C.m,LAPSE_LENS],[C.p,LAPSE_BLOB],[C.p,LAPSE_BLOB2],
 [C.m,LAPSE_LOW7],[C.d,LAPSE_LOW8],[C.b1,LAPSE_LOW9],[C.b2,LAPSE_LOW10],[C.b4,LAPSE_STRIP],[C.b3,LAPSE_LOW11],
 [C.m,LAPSE_BOT_L],[C.m,LAPSE_BOT_R],
 [C.g,LAPSE_G1],[C.gd,LAPSE_G2],[C.gx,LAPSE_G3],[C.g,LAPSE_G4],[C.gd,LAPSE_G5],[C.g,LAPSE_G6],[C.gd,LAPSE_G7]
],'rgba(255,255,255,.75)',1);
fills(5,Y.lapse,3,CONVECTIVE_AREAS.map(a=>[stars,a]));
fills(5,Y.lapse,3,CLOUD_AREAS.map(a=>[hatch,a]));
lines(5,Y.lapse,4,RH40,'#f8e040',2);
lines(5,Y.lapse,4,RH50,'#f0a020',2);
lines(5,Y.lapse,4,RH60,'#e86428',2);
lines(5,Y.lapse,4,RH70,'#f03020',2);
lines(5,Y.lapse,4,RH80,'#d83cc0',2);
lines(5,Y.lapse,4,RH85,'#b030d0',2);
lines(5,Y.lapse,4,RH90,'#9a30d8',2);
lines(5,Y.lapse,4,RH95,'#4a30d0',2);
line(5,Y.lapse,zip(HOURS,BOUNDARY_LAYER),'#ffffff',3.6,6);
line(5,Y.lapse,zip(CLOUD_BASE_HOURS,CLOUD_BASE),'#000000',3.6,6);
texts(5,Y.lapse,7,LAPSE_LABELS,'#ffffff');
texts(5,Y.lapse,7,RH_LABELS_70,'#f03020');
texts(5,Y.lapse,7,RH_LABELS_60,'#e86428');
texts(5,Y.lapse,7,RH_LABELS_80,'#d83cc0');
texts(5,Y.lapse,7,RH_LABELS_90,'#9a30d8');
texts(5,Y.lapse,7,RH_LABELS_95,'#4a30d0');
nowLine(5,Y.lapse,500,1000);
/* panel 5 */
const W={a:'#aae4f2',p:'#c4eef2',g:'#88ee9f',gd:'#84dd80',s6:'#8cd6f0',s5:'#7cbcf2',s4:'#6c9fe8',s3:'#5280e0',s2:'#445fd4',s1:'#3f3fcc',s0:'#7048d8'};
fills(6,Y.ws,-2,[[W.a,WS_BASE]]);
fills(6,Y.ws,-2,[
 [W.p,WS_PALE],[W.g,WS_G1],[W.gd,WS_G2],[W.gd,WS_G3],[W.s6,WS_6],[W.s6,WS_6_TOP],[W.s5,WS_5_TOP],[W.s5,WS_5_TR],[W.a,WS_7_TRI],[W.p,WS_8_SMALL],
 [W.s5,WS_5],[W.s6,WS_6_BLOB],[W.s4,WS_4_L],[W.s4,WS_4_R],[W.s3,WS_3_L],[W.s3,WS_3_R],[W.s2,WS_2_L],[W.s3,WS_3_POCKET],[W.s2,WS_2_R],[W.s1,WS_1_L],[W.s1,WS_1_R],[W.s0,WS_0]
],'rgba(20,50,70,.8)',1);
const BARBS=[];BARB_LEVELS.forEach((p,r)=>BARB_HOURS.forEach((h,c)=>BARBS.push([h,p,BARB_DIR[r][c],BARB_SPEED[r][c]])));
custom(6,Y.ws,3,BARBS.length,(i,api)=>{
  const b=BARBS[i],c=api.coord([b[0],b[1]]),st={stroke:'#4a4a4a',lineWidth:1.9,fill:null};
  if(!b[3])return {type:'circle',shape:{cx:c[0],cy:c[1],r:5},style:st};
  const a=b[2]*Math.PI/180,u=[-Math.sin(a),Math.cos(a)],n=[u[1],-u[0]],
  A=[c[0]-u[0]*16.5,c[1]-u[1]*16.5],B=[c[0]+u[0]*16.5,c[1]+u[1]*16.5],
  /* feather leans back towards the tail */
  fe=(off,len)=>{const s=[A[0]+u[0]*off,A[1]+u[1]*off];return {type:'polyline',shape:{points:[s,[s[0]+(n[0]*.9-u[0]*.42)*len,s[1]+(n[1]*.9-u[1]*.42)*len]]},style:st};},
  kids=[{type:'polyline',shape:{points:[A,B]},style:st}];
  if(b[3]>=12.5){kids.push(fe(0,14),fe(3.6,14),fe(7.2,7));}
  else if(b[3]>=6.9){kids.push(fe(0,14),fe(4,7));}
  else if(b[3]>=4.9){kids.push(fe(0,14));}
  else kids.push(fe(7,13));
  return {type:'group',children:kids};
});
lines(6,Y.ws,4,SHEAR03,'#f8ee40',4);
lines(6,Y.ws,4,SHEAR06,'#f2c23a',4);
lines(6,Y.ws,4,SHEAR08,'#e8622a',4);
texts(6,Y.ws,7,WS_LABELS,'#000');
texts(6,Y.ws,7,SHEAR_LABELS_03,'#f8ee40',16);
texts(6,Y.ws,7,SHEAR_LABELS_06,'#f2c23a',16);
texts(6,Y.ws,7,SHEAR_LABELS_08,'#e8622a',16);
nowLine(6,Y.ws,500,1000);

/* ---------- free text and legends ---------- */
function T(x,y,s,o){o=o||{};const al=o.a||'left';return {type:'text',x,y,rotation:o.r?Math.PI/2:0,silent:true,z:50,
  style:{text:s,fontSize:o.s||20,fontFamily:o.f||FONT,fontWeight:o.w||'normal',fill:o.c||'#000',align:al,verticalAlign:'middle',textAlign:al,textVerticalAlign:'middle'}};}
function B(x,y,w,h,fill,stroke){return {type:'rect',silent:true,z:50,shape:{x,y,width:w,height:h},style:{fill,stroke:stroke||null,lineWidth:stroke?1.2:0}};}
const CX=1124.5;
const graphics=[
 T(46,77,'46.31°N, 13.11°E (210 m asl)',{s:24}),
 T(1977,43,'meteoblue',{s:42,f:'"Open Sans"',w:600,c:'#16466e',a:'center'}),
 T(2087,29,'®',{s:10,c:'#16466e',a:'center'}),
 T(CX,111,'Surface conditions',{s:24,a:'center'}),
 T(CX,137.5,'Sun 26.07',{s:22,c:'#f01010',a:'center'}),
 T(200,169,'Wind 80 m',{s:24,c:'#80b11f',a:'right'}),
 T(200,201,'Wind 10 m',{s:24,c:'#26704a',a:'right'}),
 T(146,229,'Gust',{s:24,c:'#1e90ff',a:'center'}),
 T(136,267,'(m/s)',{s:24,a:'center'}),
 T(123,428,'Temperature (°C)',{s:24,a:'center',r:1}),
 T(2083,428,'Precipitation (mm/h)',{s:24,c:'#1a5cf0',a:'center',r:1}),
 B(229,520.5,43,5,'#ff0000'),T(288,524.5,'2m Temperature'),
 B(493,521.5,43,3.5,'#a52a2a'),T(551,524.5,'2m Dew point temp.'),
 B(1666,516,39,14,'#0f52f0'),T(1717,524.5,'Precipitation'),
 B(1856,516,40,14,'#0cdcc8'),T(1906,524.5,'Showers'),
 T(CX,585,'Stability indices',{s:24,a:'center'}),
 T(229,632,'Max. height',{s:24,a:'right'}),
 T(229,697,'Thermal index',{s:24,a:'right'}),
 T(2084,709,'hPa',{s:24,a:'center',r:1}),
 T(48,863,'Updraft velocity',{s:24,a:'center',r:1}),
 T(82,861,'(m/s)',{s:24,a:'center',r:1}),
 T(117,861,'CAPE (J/kg)',{s:24,c:'#3535e8',a:'center',r:1}),
 T(2114,863,'Soaring index',{s:24,c:'#e266c8',a:'center',r:1}),
 T(2146,867,'Lifted index',{s:24,c:'#f00',a:'center',r:1}),
 T(214,1009,'Thermals',{s:20,a:'right'}),
 B(241,995,132.5,19,'#c080d8','#333'),T(307,1006,'Strong',{a:'center',s:20}),
 B(373.5,995,132.5,19,'#a094d8','#333'),T(440,1006,'Moderate',{a:'center',s:20}),
 B(506,995,132,19,'#78bccc','#333'),T(572,1006,'Light',{a:'center',s:20}),
 B(638,995,132,19,'#c4eef4','#333'),T(704,1006,'Weak',{a:'center',s:20}),
 T(1452,1009,'Soaring conditions',{s:20,a:'right'}),
 B(1478,997,132.5,18.5,'#f9ce80','#333'),T(1544,1007,'poor',{a:'center',s:20}),
 B(1610.5,997,132.5,18.5,'#f0f87b','#333'),T(1677,1007,'moderate',{a:'center',s:20}),
 B(1743,997,133,18.5,'#d9f0a8','#333'),T(1809,1007,'good',{a:'center',s:20}),
 B(1876,997,133,18.5,'#67e88a','#333'),T(1942,1007,'excellent',{a:'center',s:20}),
 T(CX,1065,'Lapse rate / Humidity / Clouds',{s:24,a:'center'}),
 T(121,1402,'Altitude approx.',{s:24,a:'center',r:1}),
 T(2083,1350,'Pressure (hPa)',{s:24,a:'center',r:1}),
 B(240.6,1746,39,7,'#000'),T(296,1751,'Convective cloud base'),
 B(563.5,1746,40.5,8,'#fff','#000'),T(620,1751,'Boundary layer height'),
 T(939,1751,'Rel. Humidity (%): colored lines'),
 T(1416,1752,'Convective clouds'),B(1603,1745,88,13,stars,'#000'),
 T(1796,1752,'Cloud cover'),B(1920,1745,89,13,hatch,'#000'),
 T(CX,1815,'Horizontal wind / Vertical wind shear',{s:24,a:'center'}),
 T(121,2147,'Altitude approx.',{s:24,a:'center',r:1}),
 T(2083,2148,'Pressure (hPa)',{s:24,a:'center',r:1}),
 T(43,2508,'Last update: 2026-07-26 11:37',{s:21,c:'#888'}),
 T(1356,2508,'Wind shear (m/s per 100 m)',{s:20})
];
[['0.28','#f8ee40'],['0.56','#f2c23a'],['0.83','#e86428'],['1.39','#ee3020'],['2.78','#d830b0']].forEach((a,i)=>{
  const x=1655+i*70.8;graphics.push(B(x,2493.5,70.8,18.5,a[1]),T(x+35.4,2505,a[0],{a:'center',s:20}));});

const chart=echarts.init(document.getElementById('c'),null,{renderer:'canvas',width:2160,height:2538});
chart.setOption({animation:false,backgroundColor:'#fafafa',grid:grids,xAxis,yAxis,series,graphic:{elements:graphics},tooltip:{show:false}});
</script></body></html>
